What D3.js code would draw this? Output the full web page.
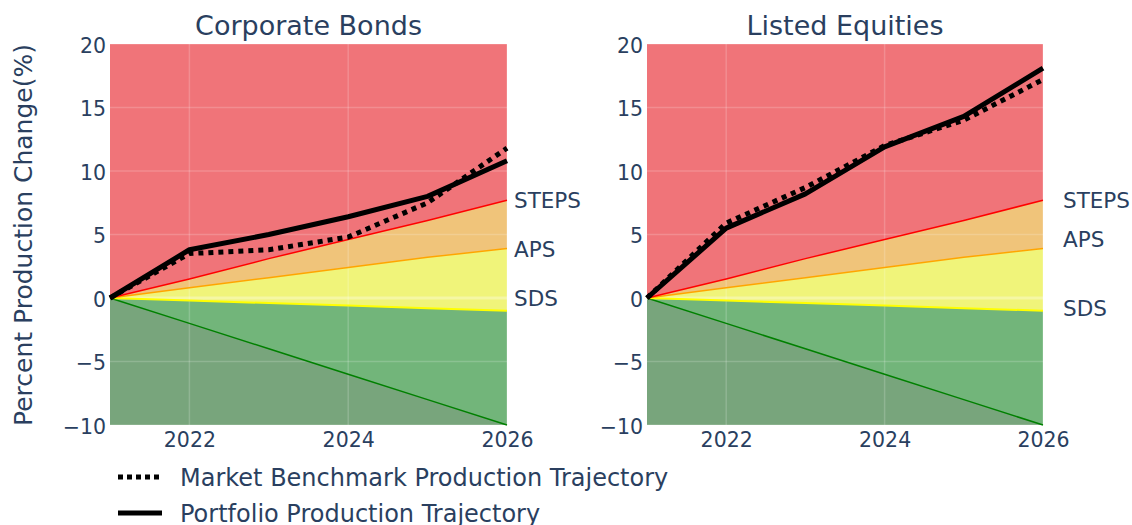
<!DOCTYPE html>
<html><head><meta charset="utf-8">
<script src="https://cdn.jsdelivr.net/npm/d3@7"></script>
<style>body{margin:0;background:#fff;font-family:"DejaVu Sans",sans-serif;}</style>
</head><body><svg id="c" width="1132" height="525"></svg>
<script>
const years = [2021, 2022, 2023, 2024, 2025, 2026];
const panelTitles = ["Corporate Bonds", "Listed Equities"];
const bondsPortfolio = [0, 3.8, 5.0, 6.4, 8.0, 10.8];
const bondsBenchmark = [0, 3.5, 3.8, 4.8, 7.5, 11.8];
const equitiesPortfolio = [0, 5.5, 8.2, 11.9, 14.3, 18.1];
const equitiesBenchmark = [0, 5.9, 8.7, 12.0, 14.0, 17.2];
const steps = [0, 1.5, 3.1, 4.6, 6.1, 7.7];
const aps = [0, 0.8, 1.6, 2.4, 3.2, 3.9];
const sds = [0, -0.2, -0.4, -0.6, -0.8, -1.0];
const nze = [0, -2, -4, -6, -8, -10];
const yTicks = [-10, -5, 0, 5, 10, 15, 20];
const xTicks = [2022, 2024, 2026];
const scenarioLabels = ["STEPS", "APS", "SDS"];
const legendLabels = ["Market Benchmark Production Trajectory", "Portfolio Production Trajectory"];

const svg = d3.select("#c");
const txt = "#2a3f5f";
const y = d3.scaleLinear().domain([-10, 20]).range([425, 44]);
const panels = [
  {x0: 110, x1: 507, port: bondsPortfolio, bench: bondsBenchmark, labelX: 514, labelY: [7.7, 3.8, -0.05]},
  {x0: 647, x1: 1043, port: equitiesPortfolio, bench: equitiesBenchmark, labelX: 1063, labelY: [7.7, 4.6, -0.8]}
];

panels.forEach((p, i) => {
  const x = d3.scaleLinear().domain([2021, 2026]).range([p.x0, p.x1]);
  const g = svg.append("g");
  const idx = d3.range(years.length);
  const area = (lo, hi) => d3.area().x(j => x(years[j])).y0(j => y(lo(j))).y1(j => y(hi(j)))(idx);
  // fills
  g.append("path").attr("d", area(j => steps[j], () => 20)).attr("fill", "#f07479");
  g.append("path").attr("d", area(j => aps[j], j => steps[j])).attr("fill", "#f0c47a");
  g.append("path").attr("d", area(j => sds[j], j => aps[j])).attr("fill", "#f0f47a");
  g.append("path").attr("d", area(() => -10, j => sds[j])).attr("fill", "#72b57a");
  g.append("path").attr("d", area(() => -10, j => nze[j])).attr("fill", "#78a57c");
  // grid
  g.selectAll(".gx").data(xTicks).join("line")
    .attr("x1", d => x(d)).attr("x2", d => x(d)).attr("y1", 44).attr("y2", 425)
    .attr("stroke", "rgba(255,255,255,0.18)").attr("stroke-width", 1.5);
  g.selectAll(".gy").data(yTicks).join("line")
    .attr("x1", p.x0).attr("x2", p.x1).attr("y1", d => y(d)).attr("y2", d => y(d))
    .attr("stroke", d => d === 0 ? "rgba(255,255,255,0.32)" : "rgba(255,255,255,0.18)")
    .attr("stroke-width", d => d === 0 ? 3 : 1.5);
  // scenario lines
  const line = arr => d3.line().x((d, j) => x(years[j])).y(d => y(d))(arr);
  g.append("path").attr("d", line(nze)).attr("fill", "none").attr("stroke", "#008000").attr("stroke-width", 1.5);
  g.append("path").attr("d", line(sds)).attr("fill", "none").attr("stroke", "#ffff00").attr("stroke-width", 2);
  g.append("path").attr("d", line(aps)).attr("fill", "none").attr("stroke", "#ffa500").attr("stroke-width", 1.5);
  g.append("path").attr("d", line(steps)).attr("fill", "none").attr("stroke", "#ff0000").attr("stroke-width", 1.5);
  // trajectories
  g.append("path").attr("d", line(p.port)).attr("fill", "none").attr("stroke", "#000").attr("stroke-width", 5).attr("stroke-linejoin", "round");
  g.append("path").attr("d", line(p.bench)).attr("fill", "none").attr("stroke", "#000").attr("stroke-width", 5).attr("stroke-dasharray", "5,5");
  // axes
  const ya = g.append("g").attr("transform", `translate(${p.x0},0)`)
    .call(d3.axisLeft(y).tickValues(yTicks).tickSize(0).tickPadding(4).tickFormat(d => d < 0 ? "\u2212" + Math.abs(d) : d));
  ya.select(".domain").remove();
  ya.selectAll("text").attr("fill", txt).attr("dy", "0.4em").style("font-size", "20.5px").style("font-family", "DejaVu Sans");
  const xa = g.append("g").attr("transform", `translate(0,425)`)
    .call(d3.axisBottom(x).tickValues(xTicks).tickSize(0).tickPadding(7).tickFormat(d3.format("d")));
  xa.select(".domain").remove();
  xa.selectAll("text").attr("fill", txt).style("font-size", "20.5px").style("font-family", "DejaVu Sans");
  // title
  g.append("text").attr("x", (p.x0 + p.x1) / 2).attr("y", 35).attr("text-anchor", "middle")
    .attr("fill", txt).style("font-size", "27px").text(panelTitles[i]);
  // scenario labels
  g.selectAll(".sl").data(scenarioLabels).join("text")
    .attr("x", p.labelX).attr("y", (d, k) => y(p.labelY[k])).attr("dy", "0.36em")
    .attr("fill", txt).style("font-size", "21.5px").text(d => d);
});

// y title
svg.append("text").attr("transform", "translate(32,235) rotate(-90)").attr("text-anchor", "middle")
  .attr("fill", txt).style("font-size", "25px").text("Percent Production Change(%)");

// legend
legendLabels.forEach((l, k) => {
  const ly = 477 + k * 36;
  svg.append("line").attr("x1", 118).attr("x2", 162).attr("y1", ly).attr("y2", ly)
    .attr("stroke", "#000").attr("stroke-width", 5).attr("stroke-dasharray", k === 0 ? "5,4" : null);
  svg.append("text").attr("x", 180).attr("y", ly).attr("dy", "0.36em").attr("fill", txt)
    .style("font-size", "24px").text(l);
});
</script></body></html>
